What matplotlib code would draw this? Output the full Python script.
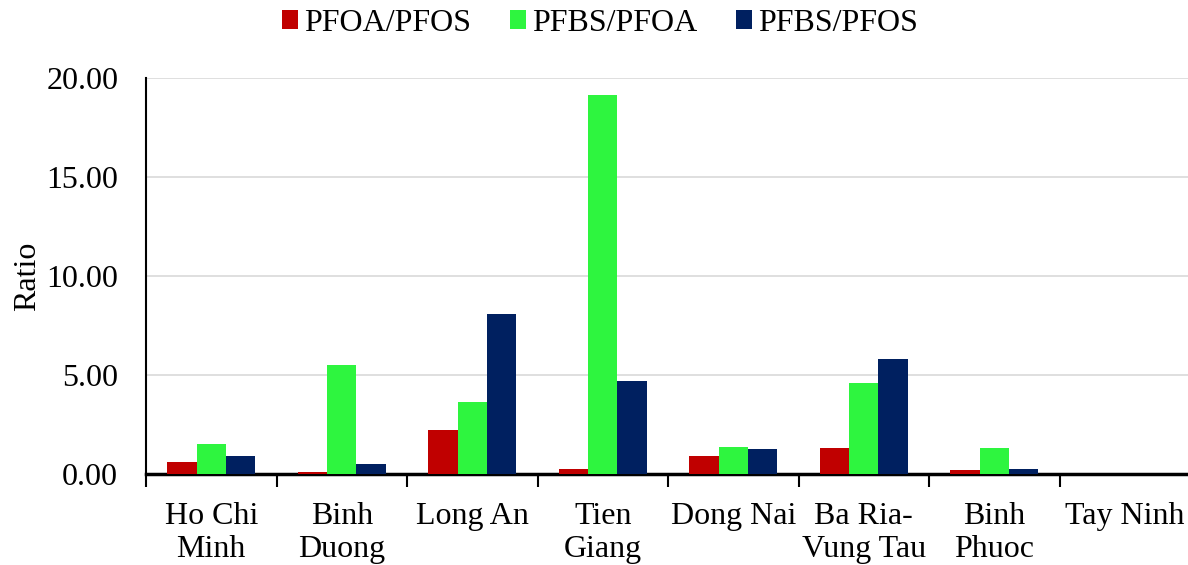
import matplotlib
matplotlib.use('Agg')
import matplotlib.pyplot as plt
import numpy as np

plt.rcParams['font.family'] = ['Liberation Serif', 'DejaVu Serif']

categories = ['Ho Chi\nMinh', 'Binh\nDuong', 'Long An', 'Tien\nGiang', 'Dong Nai',
              'Ba Ria-\nVung Tau', 'Binh\nPhuoc', 'Tay Ninh']
pfoa_pfos = [0.62, 0.12, 2.20, 0.25, 0.92, 1.30, 0.20, 0.0]
pfbs_pfoa = [1.50, 5.52, 3.66, 19.14, 1.36, 4.58, 1.30, 0.0]
pfbs_pfos = [0.91, 0.49, 8.08, 4.70, 1.26, 5.82, 0.27, 0.0]

series = [('PFOA/PFOS', pfoa_pfos, '#C00000'),
          ('PFBS/PFOA', pfbs_pfoa, '#2EF53F'),
          ('PFBS/PFOS', pfbs_pfos, '#002060')]

fig = plt.figure(figsize=(11.88, 5.65), dpi=100)
ax = fig.add_axes([0.1229, 0.161, 0.8788, 0.701])

x = np.arange(len(categories))
w = 0.225
for i, (name, vals, col) in enumerate(series):
    ax.bar(x + (i - 1) * w, vals, width=w, color=col, label=name, zorder=3)

ax.set_xlim(-0.5, len(categories) - 0.5)
ax.set_ylim(0, 20)
ax.set_yticks([0, 5, 10, 15, 20])
ax.set_yticklabels(['%.2f' % v for v in [0, 5, 10, 15, 20]], fontsize=23)
ax.tick_params(axis='y', length=0, pad=20)
ax.grid(axis='y', color='#D9D9D9', linewidth=1.2, zorder=0)

ax.set_xticks(x)
ax.set_xticklabels(categories, fontsize=23, linespacing=1.2, va='top')
ax.tick_params(axis='x', which='major', length=0, pad=20)
ax.set_xticks(np.arange(-0.5, len(categories) + 0.5, 1), minor=True)
ax.tick_params(axis='x', which='minor', length=9, width=1.5, direction='out')

for s in ['top', 'right']:
    ax.spines[s].set_visible(False)
ax.spines['left'].set_linewidth(1.5)
ax.spines['bottom'].set_linewidth(2.5)

ax.set_ylabel('Ratio', fontsize=23)
ax.yaxis.set_label_coords(-0.1, 0.5)

fig.legend(loc='upper center', bbox_to_anchor=(0.505, 1.035), ncol=3, frameon=False,
           fontsize=23, handlelength=0.5, handleheight=0.55, handletextpad=0.2,
           columnspacing=1.2)

fig.savefig('out.png', dpi=100)
